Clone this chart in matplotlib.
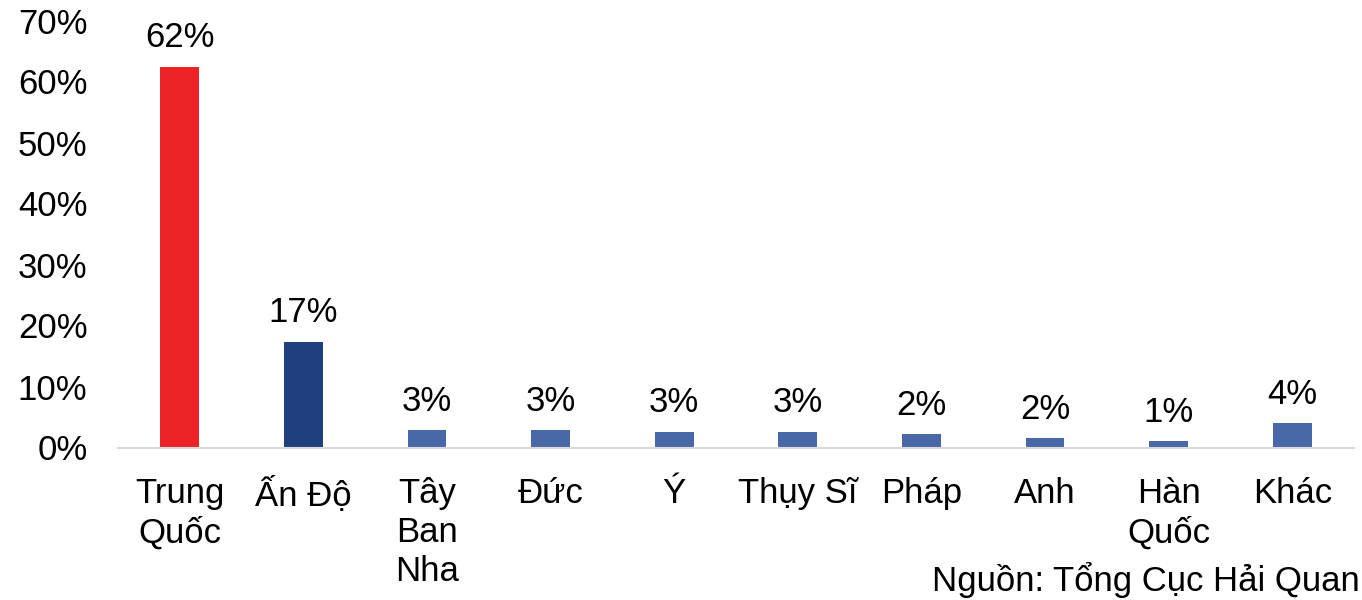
import matplotlib
matplotlib.use("Agg")
import matplotlib.pyplot as plt
from matplotlib.ticker import FuncFormatter

categories = ["Trung\nQuốc", "Ấn Độ", "Tây\nBan\nNha", "Đức", "Ý", "Thụy Sĩ", "Pháp", "Anh", "Hàn\nQuốc", "Khác"]
values = [62.4, 17.3, 2.8, 2.8, 2.6, 2.6, 2.2, 1.5, 1.0, 4.0]
colors = ["#ED2226", "#1F3F7E"] + ["#4868A8"] * 8
yticks = [0, 10, 20, 30, 40, 50, 60, 70]
source = "Nguồn: Tổng Cục Hải Quan"

plt.rcParams["font.family"] = ["Liberation Sans", "DejaVu Sans"]
FS = 25

fig = plt.figure(figsize=(13.62, 6.0), dpi=100)
ax = fig.add_axes([118 / 1362, (600 - 447.5) / 600, (1354 - 118) / 1362, 427 / 600])

x = list(range(len(categories)))
bars = ax.bar(x, values, width=0.315, color=colors, zorder=2)

for xi, v in zip(x, values):
    ax.annotate(f"{v:.0f}%", (xi, v), xytext=(0, 9), textcoords="offset points",
                ha="center", va="bottom", fontsize=FS, color="#000000")

ax.set_xlim(-0.5, len(categories) - 0.5)
ax.set_ylim(0, 70)
ax.set_yticks(yticks)
ax.yaxis.set_major_formatter(FuncFormatter(lambda v, p: f"{v:.0f}%"))
ax.set_xticks(x)
ax.set_xticklabels(categories, fontsize=FS, linespacing=1.24, va="top")
ax.tick_params(axis="y", labelsize=FS, length=0, pad=22)
ax.tick_params(axis="x", length=0, pad=21)

for s in ["top", "right", "left"]:
    ax.spines[s].set_visible(False)
ax.spines["bottom"].set_color("#D9D9D9")
ax.spines["bottom"].set_linewidth(1.5)

fig.text(1360 / 1362, 2 / 600, source, ha="right", va="bottom", fontsize=FS)

fig.savefig("out.png", dpi=100)
